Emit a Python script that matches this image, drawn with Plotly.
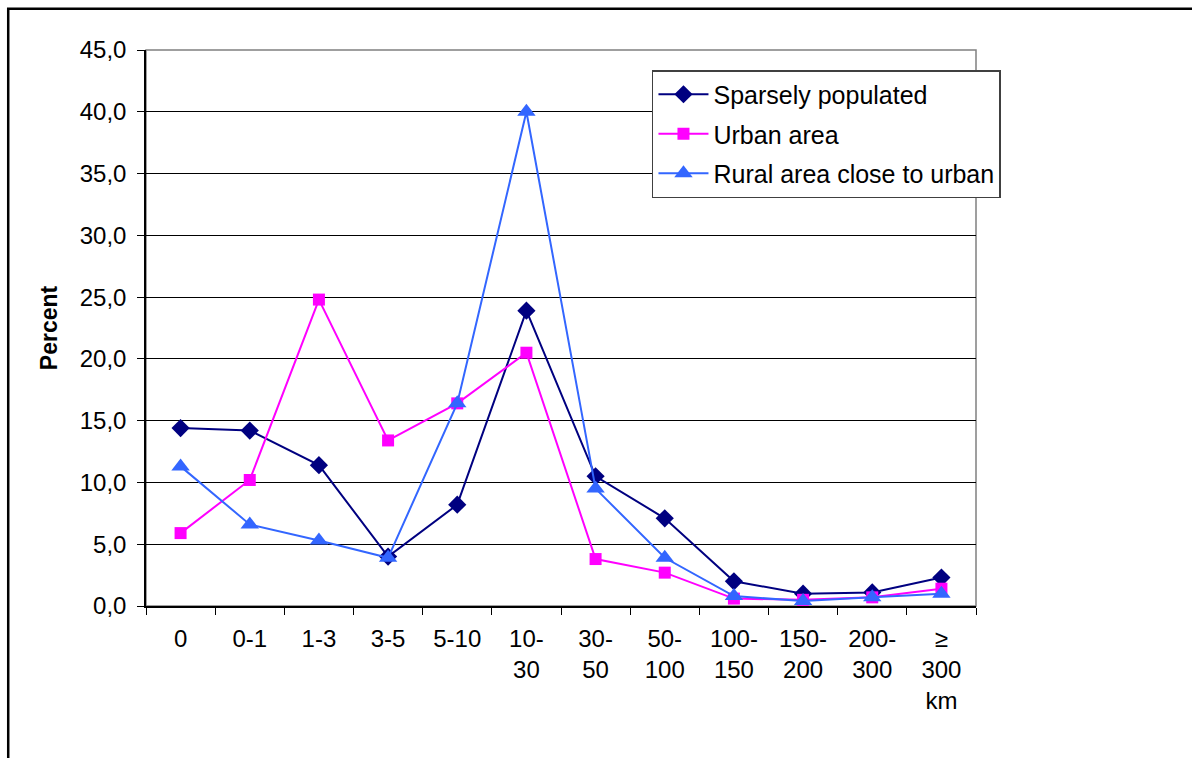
import plotly.graph_objects as go

# Distance categories (km)
categories = ["0", "0-1", "1-3", "3-5", "5-10", "10-<br>30", "30-<br>50", "50-<br>100",
              "100-<br>150", "150-<br>200", "200-<br>300", "≥<br>300<br>km"]

sparsely_populated = [14.4, 14.2, 11.4, 4.0, 8.2, 23.9, 10.5, 7.1, 2.0, 1.0, 1.1, 2.3]
urban_area = [5.9, 10.2, 24.8, 13.4, 16.4, 20.5, 3.8, 2.7, 0.6, 0.5, 0.7, 1.4]
rural_close_to_urban = [11.3, 6.6, 5.3, 3.9, 16.4, 40.0, 9.5, 3.9, 0.8, 0.4, 0.7, 1.0]

FONT = "Liberation Sans, Arial, sans-serif"

fig = go.Figure()
fig.add_trace(go.Scatter(
    x=categories, y=sparsely_populated, name="Sparsely populated",
    mode="lines+markers", line=dict(color="#000080", width=2),
    marker=dict(symbol="diamond", size=14, color="#000080"),
    legendgroup="a",
))
fig.add_trace(go.Scatter(
    x=categories, y=urban_area, name="Urban area",
    mode="lines+markers", line=dict(color="#FF00FF", width=2),
    marker=dict(symbol="square", size=12, color="#FF00FF"),
    legendgroup="b",
))
fig.add_trace(go.Scatter(
    x=categories, y=rural_close_to_urban, name="Rural area close to urban",
    mode="lines+markers", line=dict(color="#3366FF", width=2),
    marker=dict(symbol="triangle-up", size=16, color="#3366FF"),
    legendgroup="c",
))

# Plot area frame (grey) drawn beneath the black axes
fig.add_shape(type="rect", xref="x domain", yref="y domain", x0=0, x1=1, y0=0, y1=1,
              line=dict(color="#808080", width=1.5), layer="below")
# Outer chart frame
fig.add_shape(type="rect", xref="paper", yref="paper",
              x0=-0.166, x1=1.3, y0=-0.3, y1=1.074,
              line=dict(color="black", width=2.5), layer="below")

fig.update_layout(
    width=1192, height=758,
    margin=dict(l=146, r=216, t=50, b=152),
    paper_bgcolor="white", plot_bgcolor="white",
    separators=", ",
    font=dict(family=FONT, color="black"),
    showlegend=True,
    legend=dict(
        x=0.6096, y=0.964, xanchor="left", yanchor="top",
        bgcolor="white", bordercolor="#404040", borderwidth=1.5,
        font=dict(family=FONT, size=25, color="black"),
        traceorder="grouped", tracegroupgap=4,
        itemwidth=50,
    ),
    xaxis=dict(
        type="category", range=[-0.5, 11.5], autorange=False,
        tickson="boundaries", ticks="outside", ticklen=7,
        tickcolor="black", tickwidth=1,
        showline=True, linecolor="black", linewidth=1.5,
        showgrid=False, zeroline=False,
        tickfont=dict(family=FONT, size=24, color="black"),
        ticklabelstandoff=10,
    ),
    yaxis=dict(
        range=[0, 45], dtick=5, tickformat=".1f",
        ticks="outside", ticklen=7, tickcolor="black", tickwidth=1,
        showline=True, linecolor="black", linewidth=1.5,
        showgrid=True, gridcolor="black", gridwidth=1,
        zeroline=False,
        tickfont=dict(family=FONT, size=24, color="black"),
        ticklabelstandoff=6,
        title=dict(text="<b>Percent</b>", font=dict(family=FONT, size=23, color="black"),
                   standoff=16),
    ),
)

fig.write_html("out.html")
